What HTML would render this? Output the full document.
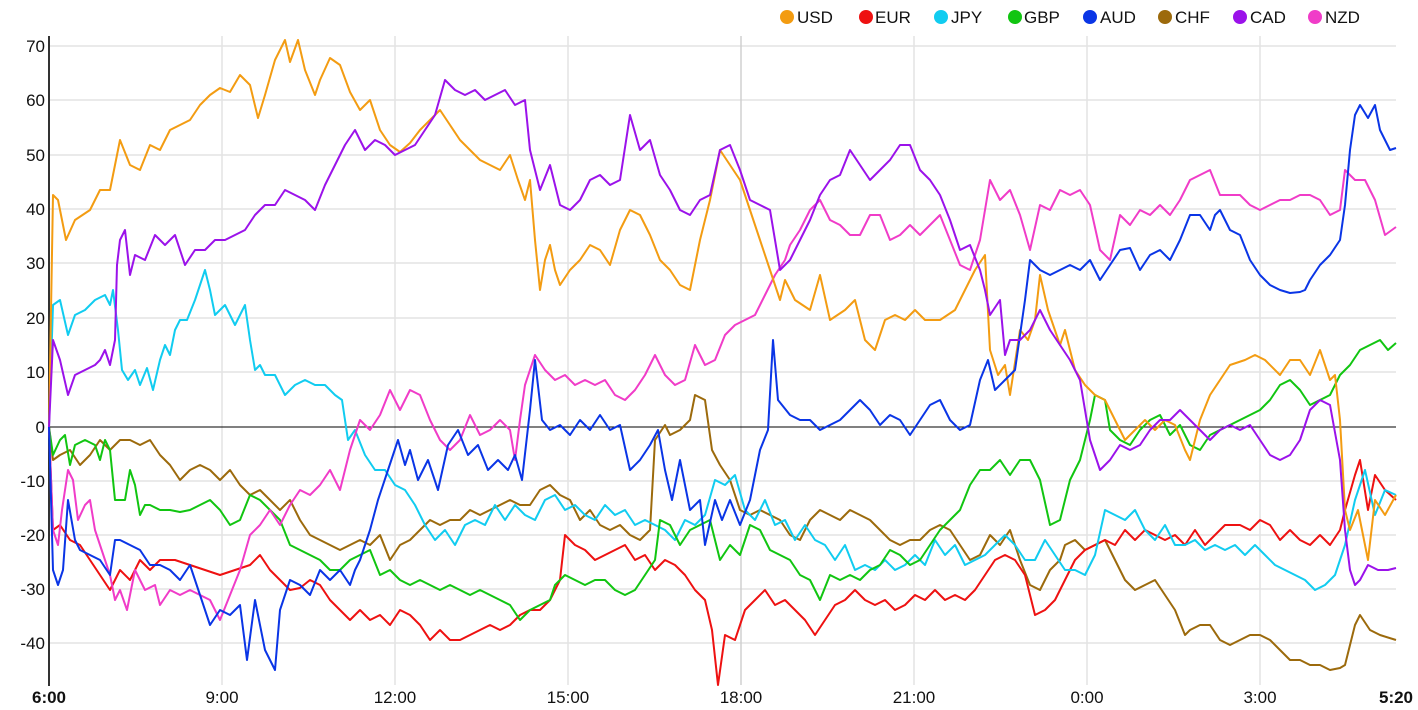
<!DOCTYPE html>
<html><head><meta charset="utf-8"><style>
body{margin:0;background:#fff;}
svg{display:block;font-family:"Liberation Sans",Arial,sans-serif;}
polyline{fill:none;stroke-width:2;stroke-linejoin:round;}
</style></head><body>
<svg width="1418" height="710" viewBox="0 0 1418 710">
<g stroke="#e3e3e3" stroke-width="1.5">
<line x1="49" x2="1396" y1="46" y2="46"/><line x1="49" x2="1396" y1="100" y2="100"/><line x1="49" x2="1396" y1="155" y2="155"/><line x1="49" x2="1396" y1="209" y2="209"/><line x1="49" x2="1396" y1="263" y2="263"/><line x1="49" x2="1396" y1="318" y2="318"/><line x1="49" x2="1396" y1="372" y2="372"/><line x1="49" x2="1396" y1="481" y2="481"/><line x1="49" x2="1396" y1="535" y2="535"/><line x1="49" x2="1396" y1="589" y2="589"/><line x1="49" x2="1396" y1="643" y2="643"/>
<line x1="222" x2="222" y1="36" y2="685"/><line x1="395" x2="395" y1="36" y2="685"/><line x1="568" x2="568" y1="36" y2="685"/><line x1="741" x2="741" y1="36" y2="685" stroke="#d0d0d0"/><line x1="914" x2="914" y1="36" y2="685"/><line x1="1087" x2="1087" y1="36" y2="685"/><line x1="1260" x2="1260" y1="36" y2="685"/>
</g>
<line x1="49" x2="1396" y1="427" y2="427" stroke="#000" stroke-width="1"/>
<line x1="49" x2="49" y1="36" y2="686" stroke="#333" stroke-width="2"/>
<g font-size="17" text-anchor="end" fill="#111">
<text x="45" y="52">70</text><text x="45" y="106">60</text><text x="45" y="161">50</text><text x="45" y="215">40</text><text x="45" y="269">30</text><text x="45" y="324">20</text><text x="45" y="378">10</text><text x="45" y="433">0</text><text x="45" y="487">-10</text><text x="45" y="541">-20</text><text x="45" y="595">-30</text><text x="45" y="649">-40</text>
</g>
<g font-size="17" text-anchor="middle" fill="#111">
<text x="49" y="703" font-weight="bold">6:00</text><text x="222" y="703">9:00</text><text x="395" y="703">12:00</text><text x="568" y="703">15:00</text><text x="741" y="703">18:00</text><text x="914" y="703">21:00</text><text x="1087" y="703">0:00</text><text x="1260" y="703">3:00</text><text x="1396" y="703" font-weight="bold">5:20</text>
</g>
<g font-size="17" fill="#111">
<circle cx="787" cy="17" r="7" fill="#f39c12"/><text x="797" y="23">USD</text>
<circle cx="866" cy="17" r="7" fill="#ee1111"/><text x="875" y="23">EUR</text>
<circle cx="941" cy="17" r="7" fill="#11ccf0"/><text x="951" y="23">JPY</text>
<circle cx="1015" cy="17" r="7" fill="#11c511"/><text x="1024" y="23">GBP</text>
<circle cx="1090" cy="17" r="7" fill="#0a35e6"/><text x="1100" y="23">AUD</text>
<circle cx="1165" cy="17" r="7" fill="#9c6a0c"/><text x="1175" y="23">CHF</text>
<circle cx="1240" cy="17" r="7" fill="#9b12ea"/><text x="1250" y="23">CAD</text>
<circle cx="1315" cy="17" r="7" fill="#f03cc8"/><text x="1325" y="23">NZD</text>
</g>
<polyline stroke="#9c6a0c" points="49,427 53,460 60,455 70,450 80,465 90,455 100,440 110,450 120,440 130,440 140,445 150,440 160,455 170,465 180,480 190,470 200,465 210,470 220,480 230,470 240,485 250,495 260,490 270,500 280,510 290,500 300,520 310,535 320,540 330,545 340,550 350,545 360,540 370,545 380,535 390,560 400,545 410,540 420,530 430,520 440,525 450,520 460,520 470,510 480,515 490,510 500,505 510,500 520,505 530,505 540,490 550,485 560,495 570,500 580,520 590,510 600,525 610,530 620,525 630,535 640,540 650,530 655,440 665,425 670,435 680,430 690,420 695,395 705,400 712,450 720,465 730,480 740,510 750,515 760,510 770,515 780,520 790,535 800,540 810,520 820,510 830,515 840,520 850,510 860,515 870,520 880,530 890,540 900,545 910,540 920,540 930,530 940,525 950,530 960,545 970,560 980,555 990,535 1000,545 1010,530 1020,560 1030,585 1040,590 1050,570 1060,560 1065,545 1075,540 1085,550 1095,545 1105,540 1115,560 1125,580 1135,590 1145,585 1155,580 1165,595 1175,610 1185,635 1190,630 1200,625 1210,625 1220,640 1230,645 1240,640 1250,635 1260,635 1270,640 1280,650 1290,660 1300,660 1310,665 1320,665 1330,670 1340,668 1345,665 1350,645 1355,625 1360,615 1370,630 1380,635 1396,640"/>
<polyline stroke="#ee1111" points="49,427 53,530 60,525 70,540 80,545 90,560 100,575 110,590 120,570 130,580 140,560 150,570 160,560 175,560 190,565 205,570 220,575 235,570 250,565 260,555 270,570 280,580 290,590 300,588 310,580 320,585 330,600 340,610 350,620 360,610 370,620 380,615 390,625 400,610 410,615 420,625 430,640 440,630 450,640 460,640 470,635 480,630 490,625 500,630 510,625 520,615 530,610 540,610 550,600 560,580 565,535 575,545 585,550 595,560 605,555 615,550 625,545 635,560 645,555 655,570 665,560 675,565 685,575 695,590 705,600 712,630 718,685 725,635 735,640 745,610 755,600 765,590 775,605 785,600 795,610 805,620 815,635 825,620 835,605 845,600 855,590 865,600 875,605 885,600 895,610 905,605 915,595 925,600 935,590 945,600 955,595 965,600 975,590 985,575 995,560 1005,555 1015,560 1025,575 1035,615 1045,610 1055,600 1065,580 1075,560 1085,550 1095,545 1105,540 1115,545 1125,530 1135,540 1145,530 1155,535 1165,540 1175,535 1185,545 1195,530 1205,545 1215,535 1225,525 1240,525 1250,530 1260,520 1270,525 1280,540 1290,530 1300,540 1310,545 1320,535 1330,545 1340,530 1345,510 1355,475 1360,460 1368,510 1375,475 1385,490 1396,500"/>
<polyline stroke="#11ccf0" points="49,427 53,305 60,300 68,335 75,315 85,310 95,300 105,295 110,305 113,290 118,330 122,370 128,380 135,370 140,385 147,368 153,390 160,360 165,345 170,355 175,330 180,320 187,320 195,300 205,270 210,290 215,315 225,305 235,325 245,305 250,340 255,370 260,365 265,375 275,375 285,395 295,385 305,380 315,385 325,385 335,395 342,400 348,440 355,430 365,455 375,470 385,470 395,485 405,490 415,505 425,525 435,540 445,530 455,545 465,525 475,520 485,525 495,505 505,520 515,505 525,515 535,520 545,500 555,495 565,510 575,505 585,515 595,520 605,505 615,515 625,510 635,525 645,520 655,525 665,530 675,540 685,520 695,525 705,515 715,480 725,485 735,475 745,510 755,520 765,500 775,525 785,520 795,540 805,525 815,540 825,545 835,560 845,545 855,570 865,565 875,570 885,560 895,570 905,565 915,555 925,565 935,540 945,555 955,545 965,565 975,560 985,555 995,545 1005,535 1015,545 1025,560 1035,560 1045,540 1055,555 1065,570 1075,570 1085,575 1095,555 1105,510 1115,515 1125,520 1135,510 1145,530 1155,540 1165,525 1175,545 1185,545 1195,540 1205,550 1215,545 1225,550 1235,545 1245,555 1255,545 1265,555 1275,565 1285,570 1295,575 1305,580 1315,590 1325,585 1335,575 1345,545 1355,500 1365,470 1375,515 1385,490 1396,495"/>
<polyline stroke="#11c511" points="49,427 53,455 60,440 65,435 70,465 75,445 85,440 95,445 100,460 105,440 110,450 115,500 125,500 130,470 135,485 140,515 145,505 150,505 160,510 170,510 180,512 190,510 200,505 210,500 220,510 230,525 240,520 250,495 260,500 270,510 280,520 290,545 300,550 310,555 320,560 330,570 340,570 350,560 360,555 370,550 380,575 390,570 400,580 410,585 420,580 430,585 440,590 450,585 460,590 470,595 480,590 490,595 500,600 510,605 520,620 530,610 540,605 550,600 555,585 565,575 575,580 585,585 595,580 605,580 615,590 625,595 635,590 645,575 655,560 660,520 670,525 680,545 690,530 700,525 710,520 720,560 730,545 740,555 750,525 760,530 770,550 780,555 790,560 800,575 810,580 820,600 830,575 840,580 850,575 860,580 870,570 880,565 890,550 900,555 910,565 920,560 930,545 940,530 950,520 960,510 970,485 980,470 990,470 1000,460 1010,475 1020,460 1030,460 1040,480 1050,525 1060,520 1070,480 1080,460 1090,420 1095,395 1105,400 1110,430 1120,440 1130,445 1140,430 1150,420 1160,415 1170,435 1180,425 1190,445 1200,450 1210,435 1220,430 1230,425 1240,420 1250,415 1260,410 1270,400 1280,385 1290,380 1300,390 1310,405 1320,400 1330,395 1340,375 1350,365 1360,350 1370,345 1380,340 1388,350 1396,343"/>
<polyline stroke="#f03cc8" points="49,427 53,530 58,545 62,510 68,470 73,480 78,520 85,505 90,500 95,530 100,545 110,575 115,600 120,590 127,610 135,570 145,590 155,585 160,605 170,590 180,595 190,590 200,595 210,600 220,620 230,595 240,570 250,535 260,525 270,510 280,525 290,505 300,490 310,495 320,485 330,470 340,490 350,450 360,420 370,430 380,415 390,390 400,410 410,390 420,395 430,420 440,440 450,450 460,440 470,415 480,435 490,430 500,420 510,430 515,460 520,420 525,385 535,355 545,370 555,380 565,375 575,385 585,380 595,385 605,380 615,395 625,400 635,390 645,375 655,355 665,375 675,385 685,380 695,345 705,365 715,360 725,335 735,325 745,320 755,315 765,295 775,275 785,260 790,245 800,230 810,210 820,200 830,220 840,225 850,235 860,235 870,215 880,215 890,240 900,235 910,225 920,235 930,225 940,215 950,240 960,265 970,270 980,240 990,180 1000,200 1010,190 1020,215 1030,250 1040,205 1050,210 1060,190 1070,195 1080,190 1090,205 1100,250 1110,260 1120,215 1130,225 1140,210 1150,215 1160,205 1170,215 1180,200 1190,180 1200,175 1210,170 1220,195 1230,195 1240,195 1250,205 1260,210 1270,205 1280,200 1290,200 1300,195 1310,195 1320,200 1330,215 1340,210 1345,170 1355,180 1365,180 1375,200 1385,235 1396,227"/>
<polyline stroke="#f39c12" points="49,427 53,195 58,200 66,240 75,220 90,210 100,190 110,190 120,140 130,165 140,170 150,145 160,150 170,130 180,125 190,120 200,105 210,95 220,88 230,92 240,75 250,85 258,118 265,95 275,60 285,40 290,62 298,40 305,70 315,95 320,80 330,58 340,65 350,92 360,110 370,100 380,130 390,145 400,152 410,143 420,130 430,120 440,110 450,125 460,140 470,150 480,160 490,165 500,170 510,155 518,180 525,200 530,180 535,240 540,290 545,260 550,245 555,270 560,285 570,270 580,260 590,245 600,250 610,265 620,230 630,210 640,215 650,235 660,260 670,270 680,285 690,290 700,240 710,200 720,150 730,165 740,180 750,210 760,240 770,270 780,300 785,280 795,300 810,310 820,275 830,320 845,310 855,300 865,340 875,350 885,320 895,315 905,320 915,310 925,320 940,320 955,310 965,290 975,270 985,255 990,350 998,375 1005,365 1010,395 1020,330 1028,340 1035,320 1040,275 1048,310 1060,345 1065,330 1075,370 1085,385 1095,395 1105,400 1115,420 1125,440 1135,430 1145,420 1155,430 1165,420 1175,425 1185,450 1190,460 1200,420 1210,395 1220,380 1230,365 1245,360 1255,355 1265,360 1280,375 1290,360 1300,360 1310,375 1320,350 1330,380 1335,375 1340,420 1345,510 1350,530 1358,510 1368,560 1375,500 1385,515 1396,495"/>
<polyline stroke="#0a35e6" points="49,427 53,570 58,585 63,570 68,500 75,540 80,550 90,555 100,560 110,575 115,540 120,540 130,545 140,550 150,565 160,565 170,570 180,580 190,565 200,595 210,625 220,610 230,615 240,605 247,660 255,600 265,650 275,670 280,610 290,580 300,585 310,595 320,570 330,580 340,570 350,585 355,570 360,560 370,530 378,500 388,470 398,440 405,465 410,450 418,480 428,460 438,490 448,445 458,430 468,455 478,445 488,470 498,460 508,470 515,455 522,480 530,410 535,360 542,420 550,430 560,425 570,435 580,420 590,430 600,415 610,430 620,425 630,470 640,460 650,445 658,430 665,470 672,500 680,460 690,510 700,500 705,545 715,500 722,520 730,500 740,525 750,500 760,450 768,430 773,340 778,400 790,415 800,420 810,420 820,430 830,425 840,420 850,410 860,400 870,410 880,425 890,415 900,420 910,435 920,420 930,405 940,400 950,420 960,430 970,425 980,380 988,360 995,390 1005,380 1015,370 1025,300 1030,260 1040,270 1050,275 1060,270 1070,265 1080,270 1090,260 1100,280 1110,265 1120,250 1130,248 1140,270 1150,255 1160,250 1170,260 1180,240 1190,215 1200,215 1210,230 1215,215 1220,210 1230,230 1240,235 1250,260 1260,275 1270,285 1280,290 1290,293 1300,292 1305,290 1310,280 1320,265 1330,255 1340,240 1345,205 1350,150 1355,115 1360,105 1368,118 1375,105 1380,130 1390,150 1396,148"/>
<polyline stroke="#9b12ea" points="49,427 53,340 60,360 68,395 75,375 85,370 95,365 100,360 105,350 110,365 115,340 117,265 120,240 125,230 130,275 135,255 145,260 155,235 165,245 175,235 185,265 195,250 205,250 215,240 225,240 235,235 245,230 255,215 265,205 275,205 285,190 295,195 305,200 315,210 325,185 335,165 345,145 355,130 365,150 375,140 385,145 395,155 405,150 415,145 425,130 435,115 445,80 455,90 465,95 475,90 485,100 495,95 505,90 515,105 525,100 530,150 540,190 550,165 560,205 570,210 580,200 590,180 600,175 610,185 620,180 630,115 640,150 650,140 660,175 670,190 680,210 690,215 700,200 710,195 720,150 730,145 740,170 750,200 760,205 770,210 780,270 790,260 800,240 810,220 820,195 830,180 840,175 850,150 860,165 870,180 880,170 890,160 900,145 910,145 920,170 930,180 940,195 950,220 960,250 970,245 980,270 985,290 990,315 1000,300 1005,355 1010,340 1020,340 1030,330 1040,310 1050,330 1060,345 1070,360 1080,380 1090,440 1100,470 1110,460 1120,445 1130,450 1140,445 1150,430 1160,420 1170,420 1180,410 1190,420 1200,430 1210,440 1220,430 1230,425 1240,430 1250,425 1260,440 1270,455 1280,460 1290,455 1300,440 1310,410 1320,400 1330,405 1340,460 1345,530 1350,570 1355,585 1360,580 1368,565 1378,570 1388,570 1396,568"/>
</svg>
</body></html>
